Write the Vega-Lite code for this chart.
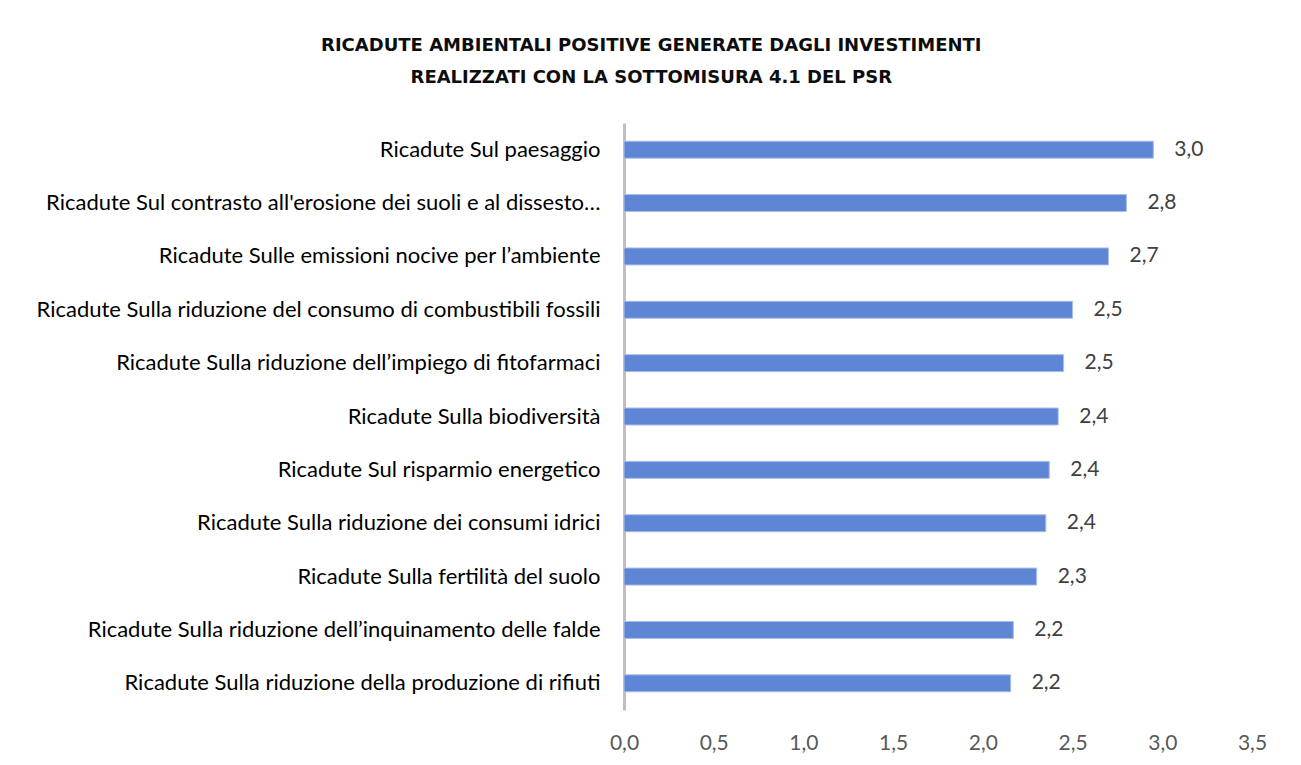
{
  "$schema": "https://vega.github.io/schema/vega-lite/v6.json",
  "width": 628,
  "height": 587,
  "autosize": {"type": "none"},
  "padding": {"left": 624, "top": 123, "right": 49, "bottom": 55},
  "background": "white",
  "config": {
    "view": {"stroke": null},
    "locale": {"number": {"decimal": ",", "thousands": ".", "grouping": [3], "currency": ["", " €"]}}
  },
  "title": {
    "text": ["RICADUTE AMBIENTALI POSITIVE GENERATE DAGLI INVESTIMENTI", "REALIZZATI CON LA SOTTOMISURA 4.1 DEL PSR"],
    "font": "DejaVu Sans",
    "fontSize": 18,
    "fontWeight": "bold",
    "color": "#0d0d0d",
    "lineHeight": 32,
    "anchor": "middle",
    "frame": "bounds",
    "offset": 36
  },
  "data": {
    "values": [
      {"voce": "Ricadute Sul paesaggio", "valore": 2.95},
      {"voce": "Ricadute Sul contrasto all'erosione dei suoli e al dissesto…", "valore": 2.80},
      {"voce": "Ricadute Sulle emissioni nocive per l’ambiente", "valore": 2.70},
      {"voce": "Ricadute Sulla riduzione del consumo di combustibili fossili", "valore": 2.50},
      {"voce": "Ricadute Sulla riduzione dell’impiego di fitofarmaci", "valore": 2.45},
      {"voce": "Ricadute Sulla biodiversità", "valore": 2.42},
      {"voce": "Ricadute Sul risparmio energetico", "valore": 2.37},
      {"voce": "Ricadute Sulla riduzione dei consumi idrici", "valore": 2.351},
      {"voce": "Ricadute Sulla fertilità del suolo", "valore": 2.30},
      {"voce": "Ricadute Sulla riduzione dell’inquinamento delle falde", "valore": 2.17},
      {"voce": "Ricadute Sulla riduzione della produzione di rifiuti", "valore": 2.155}
    ]
  },
  "encoding": {
    "y": {
      "field": "voce",
      "type": "nominal",
      "sort": null,
      "title": null,
      "axis": {
        "domain": true,
        "domainColor": "#bfbfbf",
        "domainWidth": 3,
        "ticks": false,
        "labelFont": "Lato",
        "labelFontSize": 22,
        "labelColor": "#000000",
        "labelPadding": 24,
        "labelLimit": 0
      }
    },
    "x": {
      "field": "valore",
      "type": "quantitative",
      "title": null,
      "scale": {"domain": [0, 3.5], "nice": false},
      "axis": {
        "values": [0, 0.5, 1, 1.5, 2, 2.5, 3, 3.5],
        "format": ".1f",
        "grid": false,
        "domain": false,
        "ticks": false,
        "labelFont": "Lato",
        "labelFontSize": 21,
        "labelColor": "#595959",
        "labelPadding": 22,
        "labelFlush": false
      }
    }
  },
  "layer": [
    {
      "mark": {"type": "bar", "size": 17, "color": "#5f86d4", "stroke": "#a9bfe8", "strokeWidth": 1}
    },
    {
      "mark": {"type": "text", "align": "left", "baseline": "middle", "dx": 21, "font": "Lato", "fontSize": 21, "color": "#404040"},
      "encoding": {"text": {"field": "valore", "type": "quantitative", "format": ".1f"}}
    }
  ]
}
